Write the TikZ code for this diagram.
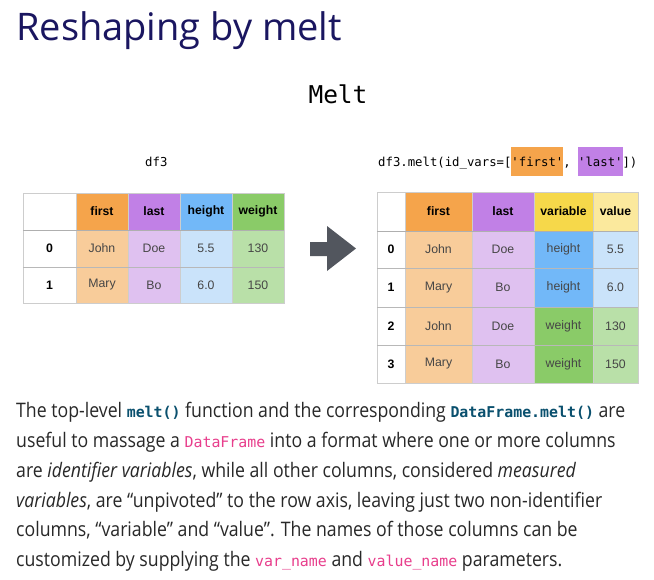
\documentclass[tikz,border=0pt]{standalone}
\usepackage{fontspec}
\newfontfamily\titlefont{Open Sans}
\newfontfamily\bodyfont[FakeStretch=0.885]{Open Sans}
\newfontfamily\tabfont{Liberation Sans}
\newfontfamily\codefont[Ligatures=TeXOff]{DejaVu Sans Mono}
\definecolor{titleblue}{RGB}{26,22,96}
\definecolor{bodygray}{RGB}{40,40,40}
\definecolor{codeteal}{RGB}{10,80,110}
\definecolor{codepink}{RGB}{232,62,140}
\definecolor{orangeH}{RGB}{245,164,75}
\definecolor{orangeL}{RGB}{248,204,154}
\definecolor{purpleH}{RGB}{193,128,230}
\definecolor{purpleL}{RGB}{223,193,240}
\definecolor{blueH}{RGB}{114,184,248}
\definecolor{blueL}{RGB}{202,227,250}
\definecolor{greenH}{RGB}{138,203,104}
\definecolor{greenL}{RGB}{185,224,168}
\definecolor{yellowH}{RGB}{246,216,74}
\definecolor{yellowL}{RGB}{251,233,157}
\definecolor{gridgray}{RGB}{205,205,205}
\definecolor{sepgray}{RGB}{175,175,175}
\definecolor{datagray}{RGB}{70,70,70}
\definecolor{arrowgray}{RGB}{82,86,94}
\newcommand\kwb[1]{{\codefont\bfseries\fontsize{14.9}{16}\selectfont\color{codeteal}#1}}
\newcommand\kwp[1]{{\codefont\fontsize{14.9}{16}\selectfont\color{codepink}#1}}
\newcommand\hlbox[2]{{\setlength{\fboxsep}{0pt}\colorbox{#1}{\rule[-10pt]{0pt}{29pt}#2}}}
\begin{document}
\begin{tikzpicture}[x=1pt,y=-1pt,
  cellbase/.style={draw=gridgray, line width=0.8pt, inner sep=0pt, outer sep=0pt, align=center},
  hcell/.style={cellbase, font=\tabfont\bfseries\fontsize{12.2}{14}\selectfont, text=black},
  dcell/.style={cellbase, font=\tabfont\fontsize{12.3}{14}\selectfont, text=datagray},
  icell/.style={cellbase, fill=white, font=\tabfont\bfseries\fontsize{12.3}{14}\selectfont, text=black},
  bodyline/.style={anchor=base west, inner sep=0pt, font=\bodyfont\fontsize{20}{24}\selectfont, text=bodygray},
  codelabel/.style={inner sep=0pt, font=\codefont\fontsize{12.3}{14}\selectfont, text=black}
]
\useasboundingbox (0,0) rectangle (654,579);
\fill[white] (0,0) rectangle (654,579);

% title
\node[anchor=base west, inner sep=0pt, font=\titlefont\fontsize{38}{44}\selectfont, text=titleblue] (title) at (16,40) {Reshaping by melt};
\node[anchor=base, inner sep=0pt, font=\codefont\fontsize{24.5}{28}\selectfont] (melt) at (338,103) {Melt};

% labels
\node[codelabel, anchor=base west] (df3) at (145,166) {df3};
\node[codelabel, anchor=base west] (call) at (378,166) {df3.melt(id\_vars=[\hlbox{orangeH}{'first'}, \hlbox{purpleH}{'last'}])};

% left table
\node[icell, minimum width=53, minimum height=37] (L-h-0) at (49.5,211.5) {};
\foreach \cc/\xa/\xb/\hfill/\dfill/\htxt/\vaa/\vbb in {
  1/76/128/orangeH/orangeL/first/John/Mary,
  2/128/180/purpleH/purpleL/last/Doe/Bo,
  3/180/232/blueH/blueL/height/5.5/6.0,
  4/232/284/greenH/greenL/weight/130/150}{
  \node[hcell, fill=\hfill, minimum width={\xb-\xa}, minimum height=37] (L-h-\cc) at ({(\xa+\xb)/2},211.5) {\htxt};
  \node[dcell, fill=\dfill, minimum width={\xb-\xa}, minimum height=37] (L-0-\cc) at ({(\xa+\xb)/2},248.5) {\vaa};
  \node[dcell, fill=\dfill, minimum width={\xb-\xa}, minimum height=36] (L-1-\cc) at ({(\xa+\xb)/2},285) {\vbb};
}
\node[icell, minimum width=53, minimum height=37] (L-0-0) at (49.5,248.5) {0};
\node[icell, minimum width=53, minimum height=36] (L-1-0) at (49.5,285) {1};
\draw[sepgray, line width=0.9pt] (L-h-0.south west) -- (L-h-4.south east);
\draw[sepgray!70!gridgray, line width=0.8pt] (L-0-0.south west) -- (L-0-4.south east);

% arrow
\fill[arrowgray] (310,242) -- (327,242) -- (327,226) -- (356,248.5) -- (327,271) -- (327,256) -- (310,256) -- cycle;

% right table
\node[icell, minimum width=28, minimum height=39] (R-h-0) at (391,211.5) {};
\node[hcell, fill=orangeH, minimum width=67, minimum height=39] (R-h-1) at (438.5,211.5) {first};
\node[hcell, fill=purpleH, minimum width=62, minimum height=39] (R-h-2) at (503,211.5) {last};
\node[hcell, fill=yellowH, minimum width=59, minimum height=39] (R-h-3) at (563.5,211.5) {variable};
\node[hcell, fill=yellowL, minimum width=45, minimum height=39] (R-h-4) at (615.5,211.5) {value};
\foreach \rr/\ya/\yb/\fname/\lname/\vname/\vfill/\vval/\valfill in {
  0/231/268/John/Doe/height/blueH/5.5/blueL,
  1/268/307/Mary/Bo/height/blueH/6.0/blueL,
  2/307/345/John/Doe/weight/greenH/130/greenL,
  3/345/383/Mary/Bo/weight/greenH/150/greenL}{
  \node[icell, minimum width=28, minimum height={\yb-\ya}] (R-\rr-0) at (391,{(\ya+\yb)/2}) {\rr};
  \node[dcell, fill=orangeL, minimum width=67, minimum height={\yb-\ya}] (R-\rr-1) at (438.5,{(\ya+\yb)/2}) {\fname};
  \node[dcell, fill=purpleL, minimum width=62, minimum height={\yb-\ya}] (R-\rr-2) at (503,{(\ya+\yb)/2}) {\lname};
  \node[dcell, fill=\vfill, minimum width=59, minimum height={\yb-\ya}] (R-\rr-3) at (563.5,{(\ya+\yb)/2}) {\vname};
  \node[dcell, fill=\valfill, minimum width=45, minimum height={\yb-\ya}] (R-\rr-4) at (615.5,{(\ya+\yb)/2}) {\vval};
}
\draw[sepgray, line width=0.9pt] (R-h-0.south west) -- (R-h-4.south east);
\foreach \rr in {0,1,2}{
  \draw[sepgray!70!gridgray, line width=0.8pt] (R-\rr-0.south west) -- (R-\rr-4.south east);
}

% body text
\node[bodyline] (b1) at (16,417.7) {The top-level \kwb{melt()} function and the corresponding \kwb{DataFrame.melt()} are};
\node[bodyline] (b2) at (16,447.7) {useful to massage a \kwp{DataFrame} into a format where one or more columns};
\node[bodyline] (b3) at (16,477.3) {are \textit{identifier variables}, while all other columns, considered \textit{measured}};
\node[bodyline] (b4) at (16,507) {\textit{variables}, are “unpivoted” to the row axis, leaving just two non-identifier};
\node[bodyline] (b5) at (16,536.7) {columns, “variable” and “value”. The names of those columns can be};
\node[bodyline] (b6) at (16,566.5) {customized by supplying the \kwp{var\_name} and \kwp{value\_name} parameters.};
\end{tikzpicture}
\end{document}
